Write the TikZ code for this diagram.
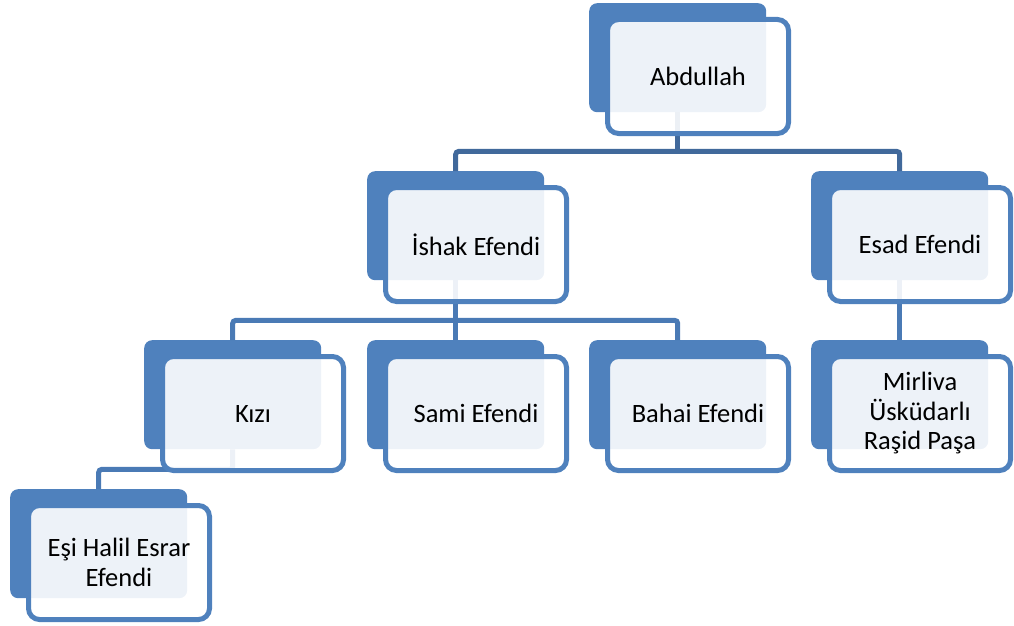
\documentclass[tikz,border=0pt]{standalone}
\usepackage{fontspec}
\setmainfont{Carlito}
\usetikzlibrary{calc}
\definecolor{accent}{HTML}{4F81BD}
\definecolor{linedark}{HTML}{41699B}
\definecolor{linemid}{HTML}{4A7AB5}
\tikzset{
  backbox/.style={rectangle, rounded corners=8pt, fill=accent, draw=none,
    minimum width=177pt, minimum height=109pt, inner sep=0pt, anchor=north west},
  frontbox/.style={rectangle, rounded corners=11pt, draw=accent, line width=5pt,
    fill=white, fill opacity=0.9, text opacity=1, text=black,
    minimum width=181pt, minimum height=114pt, inner sep=2pt, align=center,
    font=\fontsize{26.5}{29.5}\selectfont},
  connA/.style={draw=linedark, line width=5pt, rounded corners=3pt},
  connB/.style={draw=linemid, line width=5pt, rounded corners=3pt},
}
\begin{document}
\begin{tikzpicture}[x=1pt,y=-1pt]
\useasboundingbox (0,0) rectangle (1014,626);
% back boxes
\node[backbox] (bA) at (589,3) {};
\node[backbox] (bI) at (367,171) {};
\node[backbox] (bE) at (811,171) {};
\node[backbox] (bK) at (144,340) {};
\node[backbox] (bS) at (367,340) {};
\node[backbox] (bB) at (589,340) {};
\node[backbox] (bM) at (811,340) {};
\node[backbox] (bH) at (10,489) {};
% connectors
\draw[connA] (bA.south) -- ++(0,39) coordinate (j1);
\draw[connA] (bI.north) |- (j1) -| (bE.north);
\draw[connB] (bI.south) -- ++(0,40) coordinate (j2);
\draw[connB] (bK.north) |- (j2) -| (bB.north);
\draw[connB] (j2) -- (bS.north);
\draw[connB] (bE.south) -- (bM.north);
\draw[connB] (bK.south) -- ++(0,20) -| (bH.north);
% front boxes
\node[frontbox] (A) at ($(bA.north west)+(109,73.5)$) {Abdullah};
\node[frontbox] (I) at ($(bI.north west)+(109,73.5)$) {İshak Efendi};
\node[frontbox] (E) at ($(bE.north west)+(109,73.5)$) {Esad Efendi};
\node[frontbox] (K) at ($(bK.north west)+(109,73.5)$) {Kızı};
\node[frontbox] (S) at ($(bS.north west)+(109,73.5)$) {Sami Efendi};
\node[frontbox] (B) at ($(bB.north west)+(109,73.5)$) {Bahai Efendi};
\node[frontbox] (M) at ($(bM.north west)+(109,73.5)$) {Mirliva\\Üsküdarlı\\Raşid Paşa};
\node[frontbox] (H) at ($(bH.north west)+(109,73.5)$) {Eşi Halil Esrar\\Efendi};
\end{tikzpicture}
\end{document}
